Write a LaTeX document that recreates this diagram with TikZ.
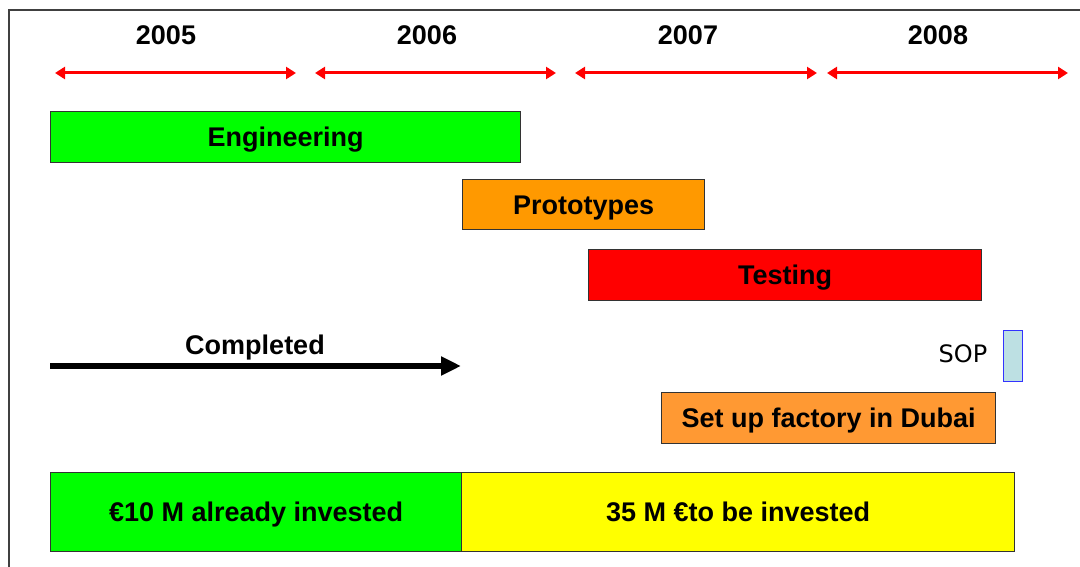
\documentclass[tikz,border=0pt]{standalone}
\usepackage{fontspec}
\setmainfont{Liberation Sans}
\newfontfamily\sopfont{DejaVu Sans}
\usetikzlibrary{arrows.meta}

\definecolor{engGreen}{HTML}{00FF00}
\definecolor{protoOrange}{HTML}{FF9900}
\definecolor{testRed}{HTML}{FF0000}
\definecolor{dubaiOrange}{HTML}{FF9933}
\definecolor{investYellow}{HTML}{FFFF00}
\definecolor{sopBlue}{HTML}{BDE0E3}

\begin{document}
\begin{tikzpicture}[
    x=1pt, y=-1pt,
    bold/.style    = {font=\fontsize{27}{30}\selectfont\bfseries, inner sep=0pt,
                      text height=19.5pt, text depth=0pt},
    bar/.style     = {bold, draw=black!80, line width=1.3pt, anchor=north west},
    year/.style    = {bold},
    span/.style    = {{Triangle[length=10pt, width=12pt]}-{Triangle[length=10pt, width=12pt]},
                      draw=testRed, line width=3pt},
    done/.style    = {-{Triangle[length=20pt, width=18pt]}, line width=5.5pt},
    frame/.style   = {draw=black!75, line width=2pt},
]

\useasboundingbox (0,0) rectangle (1080,567);

% --- outer frame ---
\draw[frame] (9,570) |- (1083,10);

% --- years with their spans ---
\node[year] (y05) at (166,35) {2005};
\node[year] (y06) at (427,35) {2006};
\node[year] (y07) at (688,35) {2007};
\node[year] (y08) at (938,35) {2008};

\coordinate (s05a) at (55,73);   \coordinate (s05b) at (296,73);
\coordinate (s06a) at (315,73);  \coordinate (s06b) at (556,73);
\coordinate (s07a) at (575,73);  \coordinate (s07b) at (817,73);
\coordinate (s08a) at (827,73);  \coordinate (s08b) at (1068,73);

\draw[span] (s05a) -- (s05b);
\draw[span] (s06a) -- (s06b);
\draw[span] (s07a) -- (s07b);
\draw[span] (s08a) -- (s08b);

% --- phases ---
\node[bar, fill=engGreen,    minimum width=470, minimum height=51] (eng)   at (50,111)  {Engineering};
\node[bar, fill=protoOrange, minimum width=242, minimum height=50] (proto) at (462,179) {Prototypes};
\node[bar, fill=testRed,     minimum width=393, minimum height=51] (test)  at (588,249) {Testing};
\node[bar, fill=dubaiOrange, minimum width=334, minimum height=51] (dubai) at (661,392) {Set up factory in Dubai};

% --- progress so far ---
\coordinate (c0) at (50,366);
\coordinate (c1) at (461,366);
\draw[done] (c0) -- (c1);
\node[bold] (compl) at (255,345) {Completed};

% --- start of production ---
\node[draw=blue!80, line width=1.4pt, fill=sopBlue, anchor=north west,
      minimum width=19, minimum height=51, inner sep=0pt] (sop) at (1003,330) {};
\node[font=\fontsize{24}{28}\selectfont\sopfont, inner sep=0pt,
      text height=17.5pt, text depth=0pt] (soplbl) at (963,354) {SOP};

% --- investment ---
\node[bar, fill=engGreen,     minimum width=411, minimum height=79] (spent) at (50,472)  {€10 M already invested};
\node[bar, fill=investYellow, minimum width=553, minimum height=79] (todo)  at (461,472) {35 M €to be invested};

\end{tikzpicture}
\end{document}
